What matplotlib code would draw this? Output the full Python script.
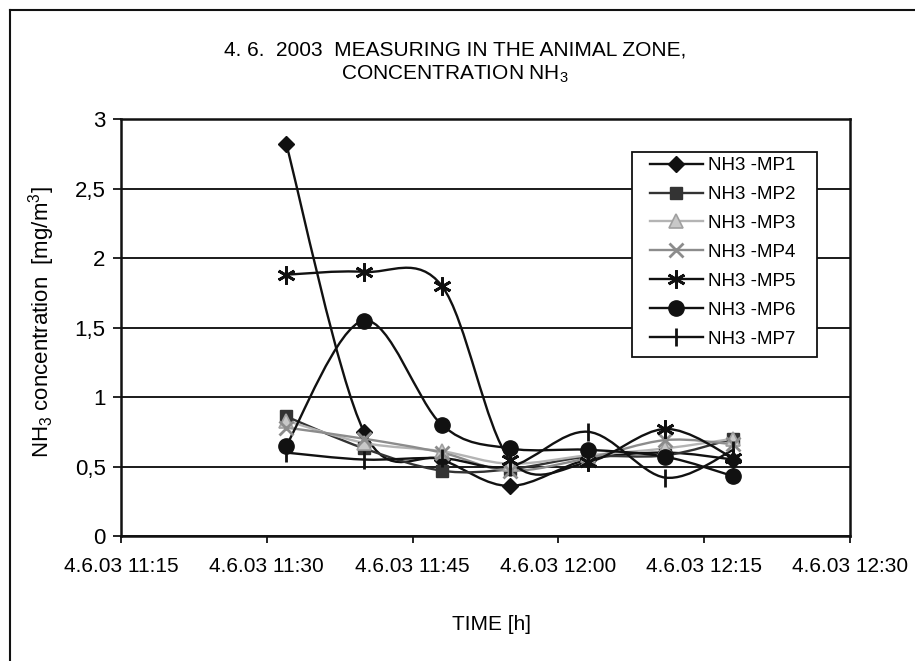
import numpy as np
import matplotlib
matplotlib.use('Agg')
import matplotlib.pyplot as plt
from matplotlib.path import Path
from matplotlib.patches import PathPatch, Rectangle
from matplotlib.lines import Line2D

plt.rcParams['font.family'] = ['Liberation Sans', 'DejaVu Sans']
plt.rcParams['mathtext.default'] = 'regular'

# measuring times (hh:mm), 4.6.2003
times = ["11:32", "11:40", "11:48", "11:55", "12:03", "12:11", "12:18"]

# NH3 concentration [mg/m3] at each measuring point
mp1 = [2.82, 0.75, 0.55, 0.36, 0.55, 0.60, 0.55]
mp2 = [0.86, 0.63, 0.47, 0.48, 0.57, 0.58, 0.70]
mp3 = [0.83, 0.67, 0.61, 0.52, 0.58, 0.63, 0.70]
mp4 = [0.78, 0.70, 0.60, 0.47, 0.56, 0.69, 0.66]
mp5 = [1.88, 1.90, 1.80, 0.55, 0.53, 0.77, 0.56]
mp6 = [0.65, 1.55, 0.80, 0.63, 0.62, 0.57, 0.43]
mp7 = [0.60, 0.55, 0.56, 0.50, 0.75, 0.42, 0.62]

labels = ["NH3 -MP1", "NH3 -MP2", "NH3 -MP3", "NH3 -MP4", "NH3 -MP5", "NH3 -MP6", "NH3 -MP7"]
tick_times = ["11:15", "11:30", "11:45", "12:00", "12:15", "12:30"]


def to_minutes(t):
    h, m = t.split(":")
    return (int(h) - 11) * 60 + int(m)


def smooth_path(x, y):
    # Excel style smoothed line: bezier segments, control points from neighbours
    verts = [(x[0], y[0])]
    codes = [Path.MOVETO]
    n = len(x)
    for i in range(n - 1):
        xa, ya = (x[i - 1], y[i - 1]) if i > 0 else (x[i], y[i])
        xb, yb = (x[i + 2], y[i + 2]) if i + 2 < n else (x[i + 1], y[i + 1])
        c1 = (x[i] + (x[i + 1] - xa) / 6.0, y[i] + (y[i + 1] - ya) / 6.0)
        c2 = (x[i + 1] - (xb - x[i]) / 6.0, y[i + 1] - (yb - y[i]) / 6.0)
        verts += [c1, c2, (x[i + 1], y[i + 1])]
        codes += [Path.CURVE4] * 3
    return Path(verts, codes)


x = [to_minutes(t) for t in times]
series = [mp1, mp2, mp3, mp4, mp5, mp6, mp7]
styles = [
    dict(color='#111111', marker='D', ms=8, mfc='#111111', mec='#111111', mew=1),
    dict(color='#333333', marker='s', ms=9, mfc='#333333', mec='#333333', mew=1),
    dict(color='#b4b4b4', marker='^', ms=10, mfc='#c8c8c8', mec='#a0a0a0', mew=1.2),
    dict(color='#8c8c8c', marker='x', ms=10, mfc='none', mec='#8c8c8c', mew=2),
    dict(color='#111111', marker=(6, 2, 0), ms=13, mfc='none', mec='#111111', mew=2),
    dict(color='#111111', marker='o', ms=11, mfc='#111111', mec='#111111', mew=1),
    dict(color='#111111', marker='|', ms=13, mfc='none', mec='#111111', mew=2),
]

fig = plt.figure(figsize=(9.15, 6.61), dpi=100)
ax = fig.add_axes([121 / 915, 1 - 536 / 661, (850 - 121) / 915, (536 - 119) / 661])

handles = []
for vals, st, lab in zip(series, styles, labels):
    ax.add_patch(PathPatch(smooth_path(x, vals), fill=False, edgecolor=st['color'],
                           lw=1.7, zorder=3))
    ax.plot(x, vals, linestyle='none', marker=st['marker'], markersize=st['ms'],
            markerfacecolor=st['mfc'], markeredgecolor=st['mec'],
            markeredgewidth=st['mew'], zorder=4)
    handles.append(Line2D([], [], color=st['color'], lw=1.7, marker=st['marker'],
                          markersize=st['ms'], markerfacecolor=st['mfc'],
                          markeredgecolor=st['mec'], markeredgewidth=st['mew']))

ax.set_xlim(15, 90)
ax.set_ylim(0, 3)
ax.set_xticks([to_minutes(t) for t in tick_times])
ax.set_xticklabels(["4.6.03 " + t for t in tick_times], fontsize=15)
ax.set_yticks(np.arange(0, 3.01, 0.5))
ax.set_yticklabels(["0", "0,5", "1", "1,5", "2", "2,5", "3"], fontsize=16)
ax.tick_params(axis='x', direction='out', length=5, width=1.2, pad=10)
ax.tick_params(axis='y', direction='out', length=6, width=1.2, pad=5)
ax.grid(axis='y', color='#1a1a1a', lw=1.4)
ax.set_axisbelow(True)
for s in ax.spines.values():
    s.set_linewidth(1.8)
    s.set_color('#111111')

# titles and axis labels
fig.text(455 / 915, 1 - 63 / 661, "4. 6.  2003  MEASURING IN THE ANIMAL ZONE,\nCONCENTRATION NH$_3$",
         ha='center', va='center', fontsize=15, multialignment='center', linespacing=1.25)
fig.text(42 / 915, 1 - 322 / 661, "NH$_3$ concentration  [mg/m$^3$]", rotation=90,
         ha='center', va='center', fontsize=16)
fig.text(492 / 915, 1 - 624 / 661, "TIME [h]", ha='center', va='center', fontsize=15)

# legend box
fig.add_artist(Rectangle((632 / 915, 1 - 357 / 661), (817 - 632) / 915, (357 - 152) / 661,
                         transform=fig.transFigure, facecolor='white', edgecolor='#111111',
                         lw=1.3, zorder=4))
fig.legend(handles, labels, loc='upper left', bbox_to_anchor=(650 / 915, 1 - 157 / 661),
           bbox_transform=fig.transFigure, frameon=False, fontsize=13.5, borderpad=0,
           borderaxespad=0, handlelength=2.8, handletextpad=0.3, labelspacing=0.63)

# outer chart frame (left and top edges visible)
fig.add_artist(Line2D([10 / 915, 10 / 915], [0, 1 - 10 / 661], transform=fig.transFigure,
                      color='#111111', lw=1.5))
fig.add_artist(Line2D([10 / 915, 1], [1 - 10 / 661, 1 - 10 / 661], transform=fig.transFigure,
                      color='#111111', lw=1.5))

fig.savefig('out.png', dpi=100)
